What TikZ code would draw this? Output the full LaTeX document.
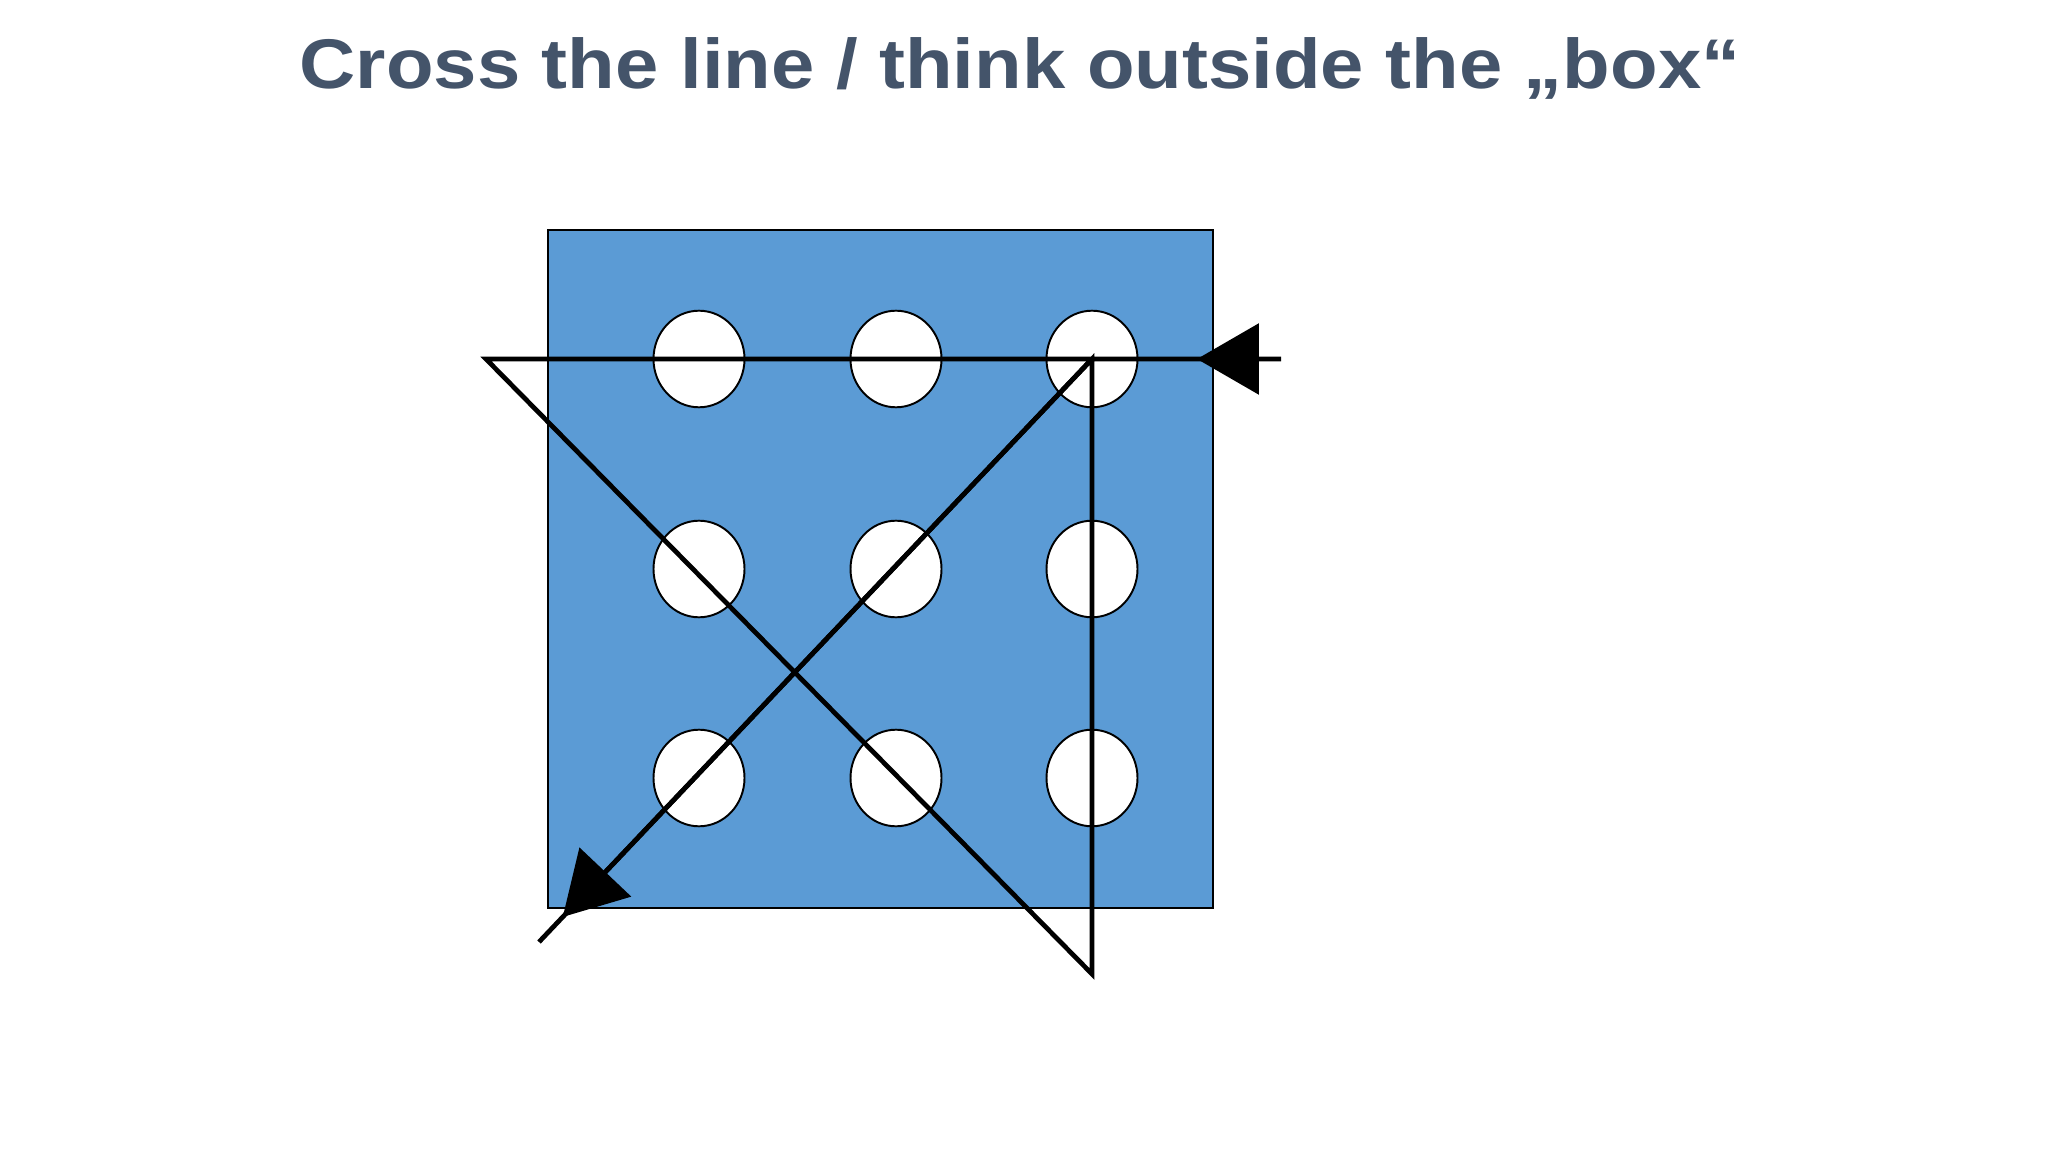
\documentclass[tikz,border=0pt]{standalone}
\usepackage{fontspec}
\setmainfont{Liberation Sans}
\usetikzlibrary{arrows.meta,calc}
\definecolor{titleblue}{HTML}{44546A}
\definecolor{boxblue}{HTML}{5B9BD5}
\begin{document}
\begin{tikzpicture}[x=0.01cm,y=-0.01cm,
  dot/.style={draw=black,line width=0.55pt,fill=white},
  stroke/.style={line width=1.35pt,line join=miter},
  tip/.style={-{Triangle[length=17.6pt,width=20pt]},line width=1.35pt}]
  \useasboundingbox (0,0) rectangle (2048,1152);
  \node[anchor=base,xscale=1.107,text=titleblue,font=\bfseries\fontsize{20}{24}\selectfont] (title) at (1020,89) {Cross the line / think outside the „box“};
  \draw[line width=0.4pt,fill=boxblue] (548,230) rectangle (1213,908);
  \foreach \col/\x in {1/699,2/896,3/1092}
    \foreach \row/\y in {1/359,2/569,3/778}
      \draw[dot] (\x,\y) ellipse [x radius=45.5,y radius=48.3];
  \coordinate (start) at (1281,359);
  \coordinate (left) at (486,359);
  \coordinate (bottom) at (1092,974);
  \coordinate (corner) at (1092,359);
  \coordinate (end) at (539,942);
  \draw[stroke] (start) -- (left) -- (bottom) -- (corner) -- (end);
  \coordinate (tipA) at (1197,359);
  \coordinate (tipB) at ($(corner)!0.957!(end)$);
  \draw[tip] (start) -- (tipA);
  \draw[tip] (corner) -- (tipB);
\end{tikzpicture}
\end{document}
